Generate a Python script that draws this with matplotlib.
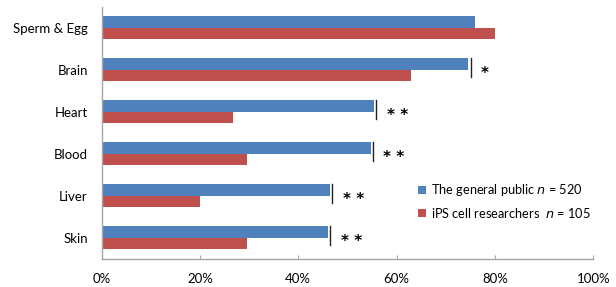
import numpy as np
import matplotlib.pyplot as plt
from matplotlib.ticker import PercentFormatter

plt.rcParams['font.family'] = ['Lato', 'DejaVu Sans']

# Data (percent), top to bottom
organs = ['Sperm & Egg', 'Brain', 'Heart', 'Blood', 'Liver', 'Skin']
public = [76, 74.6, 55.4, 54.7, 46.4, 46.0]
researchers = [80, 63, 26.7, 29.5, 20, 29.5]
signif = ['', '*', '* *', '* *', '* *', '* *']
x_ticks = [0, 20, 40, 60, 80, 100]

blue = '#4F81BD'
red = '#C0504D'
axis_grey = '#A6A6A6'

fig = plt.figure(figsize=(6.16, 2.87), dpi=100)
ax = fig.add_axes([0.165, 0.098, 0.798, 0.878])

y = np.arange(len(organs))[::-1]
h = 0.275
ax.barh(y + h / 2, public, height=h, color=blue, label='The general public $\\it{n}$ = 520')
ax.barh(y - h / 2, researchers, height=h, color=red, label='iPS cell researchers  $\\it{n}$ = 105')

# significance markers
for yi, p, s in zip(y, public, signif):
    if not s:
        continue
    ax.plot([p + 0.5, p + 0.5], [yi + h, yi - h * 0.65], color='#222222', lw=1)
    ax.text(p + 2.6, yi - 0.2, s, ha='left', va='baseline', fontsize=11,
            fontweight='bold', family='DejaVu Sans', color='black')

ax.set_xlim(0, 100)
ax.set_ylim(-0.5, len(organs) - 0.5)
ax.set_xticks(x_ticks)
ax.xaxis.set_major_formatter(PercentFormatter(decimals=0))
ax.set_yticks(y)
ax.set_yticklabels(organs)
ax.tick_params(axis='y', length=0, labelsize=9.5, pad=10)
ax.tick_params(axis='x', direction='in', length=3, color=axis_grey, labelsize=9.5, pad=10)

for side in ['top', 'right']:
    ax.spines[side].set_visible(False)
for side in ['left', 'bottom']:
    ax.spines[side].set_color(axis_grey)
    ax.spines[side].set_linewidth(1)

ax.legend(loc='center left', bbox_to_anchor=(0.62, 0.23), frameon=False, fontsize=9.2,
          handlelength=0.6, handleheight=0.6, handletextpad=0.4, labelspacing=0.6)

fig.savefig('out.png', dpi=100)
